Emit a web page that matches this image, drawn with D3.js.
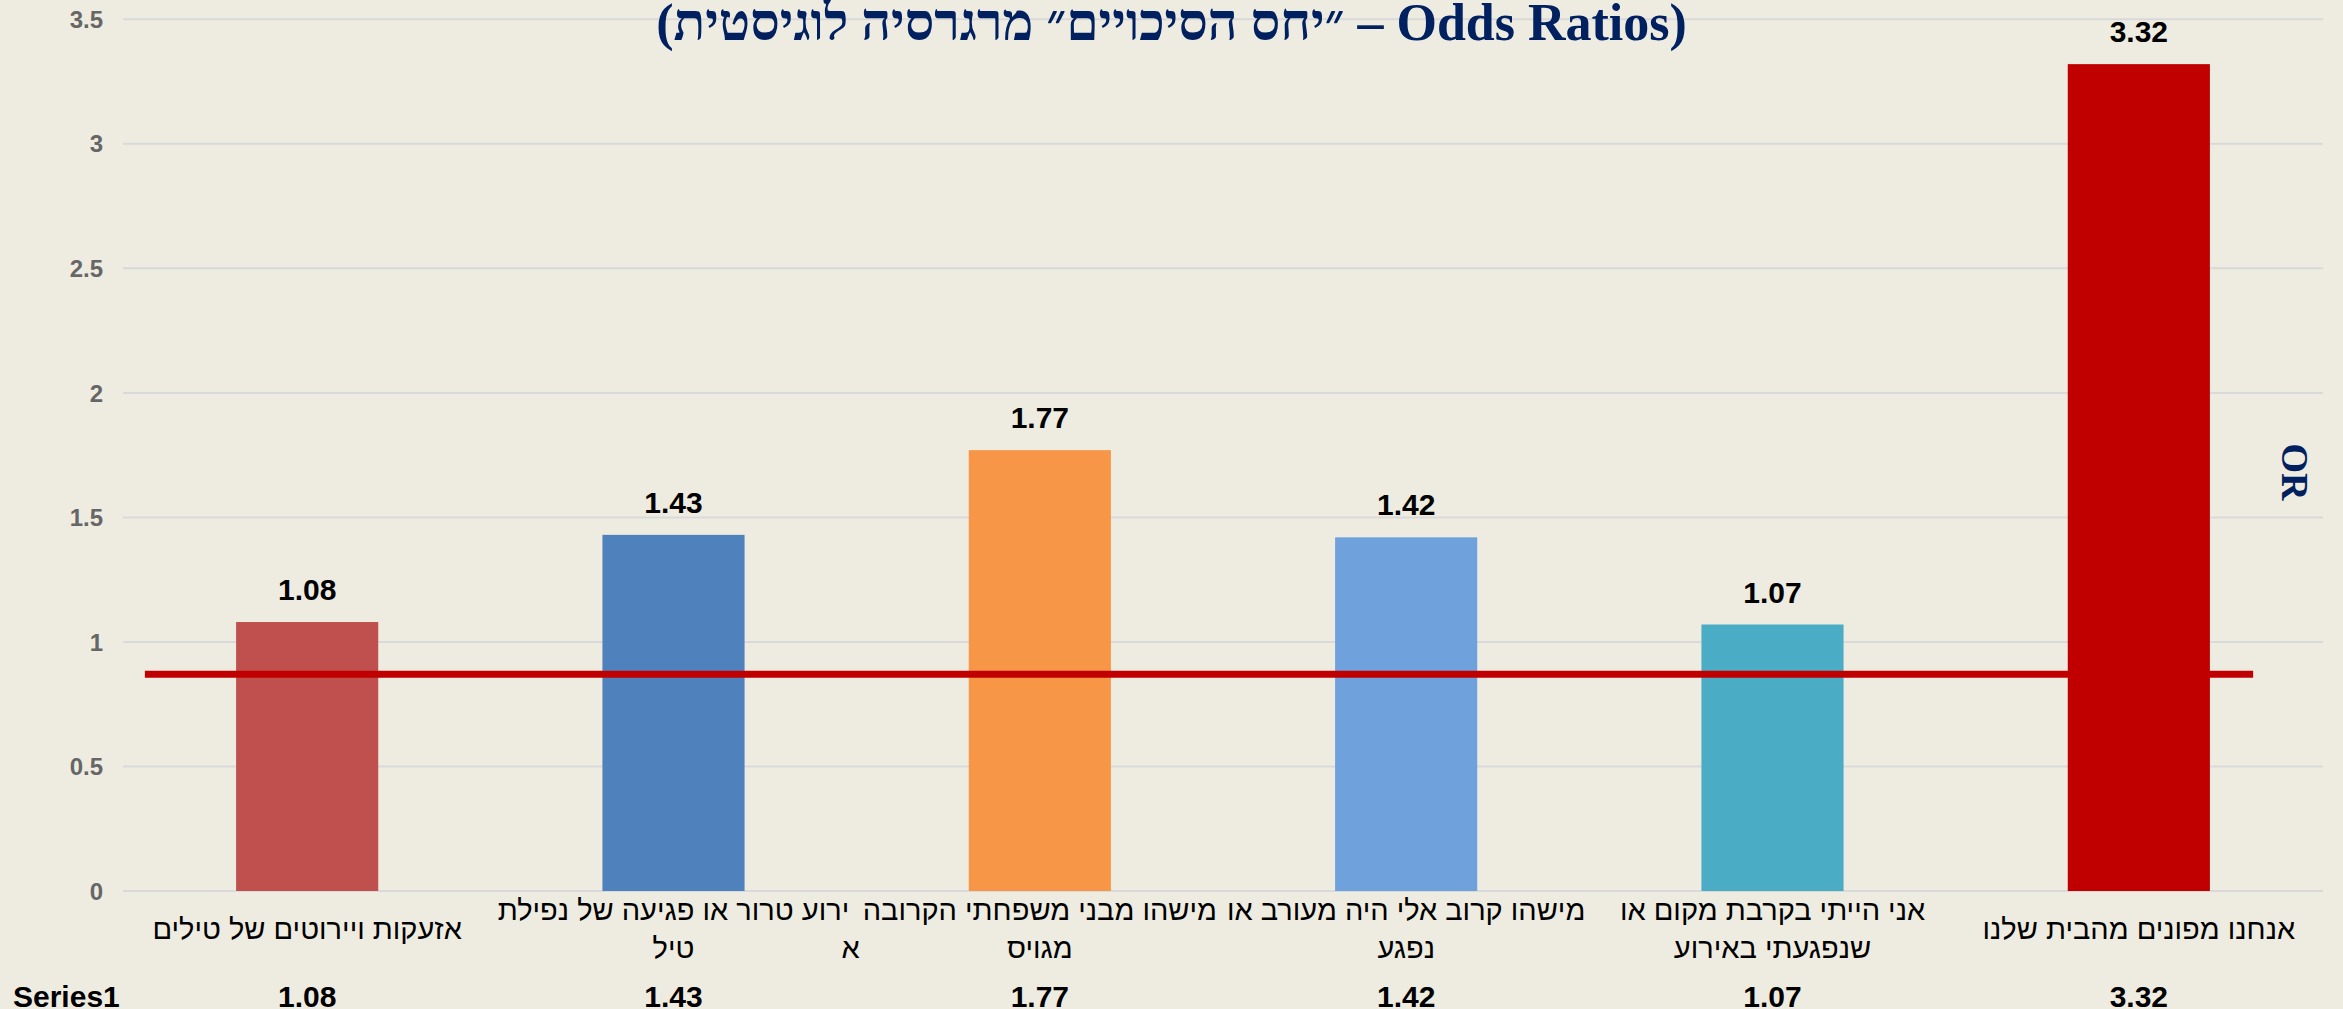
<!DOCTYPE html>
<html>
<head>
<meta charset="utf-8">
<title>Odds Ratios</title>
<style>
    body { margin: 0; background: #EEECE1; }
    svg { display: block; }
</style>
<script src="https://d3js.org/d3.v7.min.js"></script>
</head>
<body>
<svg width="2343" height="1009"></svg>
<script>
    // data
    var categories = [
        "אזעקות ויירוטים של טילים",
        "אירוע טרור או פגיעה של נפילת טיל",
        "מישהו מבני משפחתי הקרובה מגויס",
        "מישהו קרוב אלי היה מעורב או נפגע",
        "אני הייתי בקרבת מקום או שנפגעתי באירוע",
        "אנחנו מפונים מהבית שלנו"
    ];
    // how each label wraps in the picture
    var labelLines = [
        ["אזעקות ויירוטים של טילים"],
        ["ירוע טרור או פגיעה של נפילת", "טיל"],
        ["מישהו מבני משפחתי הקרובה", "מגויס"],
        ["מישהו קרוב אלי היה מעורב או", "נפגע"],
        ["אני הייתי בקרבת מקום או", "שנפגעתי באירוע"],
        ["אנחנו מפונים מהבית שלנו"]
    ];
    var oddsRatios = [1.08, 1.43, 1.77, 1.42, 1.07, 3.32];
    var barColors = ["#C0504D", "#4F81BD", "#F79646", "#6FA1DC", "#4BACC6", "#C00000"];
    var yTicks = [0, 0.5, 1, 1.5, 2, 2.5, 3, 3.5];
    var seriesName = "Series1";
    var refValue = 0.87;
    var titleText = "(Odds Ratios – ״יחס הסיכויים״ מרגרסיה לוגיסטית)";
    var axisTitle = "OR";

    var svg = d3.select("svg");
    var W = 2343, H = 1009;
    var plotLeft = 124, plotRight = 2322, plotTop = 19.3, plotBottom = 891;
    var hebFont = "Liberation Sans Narrow, Liberation Sans, Arial, sans-serif";
    var numFont = "Liberation Sans, Arial, sans-serif";

    svg.append("rect").attr("width", W).attr("height", H).attr("fill", "#EEECE1");

    var x = d3.scaleBand().domain(d3.range(categories.length))
        .range([plotLeft, plotRight]).paddingInner(0.612).paddingOuter(0.306);
    var pos = d3.scaleLinear().domain([0, categories.length]).range([plotLeft, plotRight]);
    var y = d3.scaleLinear().domain([0, 3.5]).range([plotBottom, plotTop]);

    // gridlines
    svg.append("g").selectAll("line").data(yTicks).enter().append("line")
        .attr("x1", plotLeft - 1).attr("x2", plotRight + 1)
        .attr("y1", function (d) { return y(d); })
        .attr("y2", function (d) { return y(d); })
        .attr("stroke", "#D9D9D9").attr("stroke-width", 2);

    // y labels
    svg.append("g").selectAll("text").data(yTicks).enter().append("text")
        .attr("x", 103).attr("y", function (d) { return y(d); })
        .attr("dy", "0.36em")
        .attr("text-anchor", "end")
        .attr("font-family", numFont)
        .attr("font-weight", "bold")
        .attr("font-size", 24)
        .attr("fill", "#666666")
        .text(function (d) { return d; });

    // bars
    svg.append("g").selectAll("rect").data(oddsRatios).enter().append("rect")
        .attr("x", function (d, i) { return x(i); })
        .attr("width", x.bandwidth())
        .attr("y", function (d) { return y(d); })
        .attr("height", function (d) { return y(0) - y(d); })
        .attr("fill", function (d, i) { return barColors[i]; });

    // value labels
    svg.append("g").selectAll("text").data(oddsRatios).enter().append("text")
        .attr("x", function (d, i) { return x(i) + x.bandwidth() / 2; })
        .attr("y", function (d) { return y(d) - 22; })
        .attr("text-anchor", "middle")
        .attr("font-family", numFont)
        .attr("font-weight", "bold")
        .attr("font-size", 30)
        .attr("fill", "#000")
        .text(function (d) { return d.toFixed(2); });

    // reference line
    svg.append("line")
        .attr("x1", pos(0.057)).attr("x2", pos(5.812))
        .attr("y1", y(refValue)).attr("y2", y(refValue))
        .attr("stroke", "#C00000").attr("stroke-width", 7);

    // category labels
    var lab = svg.append("g").selectAll("g").data(labelLines).enter().append("g")
        .attr("transform", function (d, i) { return "translate(" + (x(i) + x.bandwidth() / 2) + ",0)"; });
    lab.each(function (lines) {
        var g = d3.select(this);
        var base = lines.length == 1 ? 939 : 920;
        lines.forEach(function (t, k) {
            g.append("text")
                .attr("x", 0).attr("y", base + k * 38)
                .attr("text-anchor", "middle")
                .attr("direction", "rtl")
                .attr("font-family", hebFont)
                .attr("font-size", 29)
                .attr("fill", "#000")
                .text(t);
        });
    });
    // the first letter of label 2 that slipped to the second line
    svg.append("text")
        .attr("x", x(1) + x.bandwidth() / 2 + 177).attr("y", 958)
        .attr("text-anchor", "middle")
        .attr("font-family", hebFont)
        .attr("font-size", 29)
        .text(categories[1].charAt(0));

    // data table row
    svg.append("text").attr("x", 13).attr("y", 1007)
        .attr("font-family", numFont)
        .attr("font-weight", "bold").attr("font-size", 30)
        .text(seriesName);
    svg.append("g").selectAll("text").data(oddsRatios).enter().append("text")
        .attr("x", function (d, i) { return x(i) + x.bandwidth() / 2; })
        .attr("y", 1007)
        .attr("text-anchor", "middle")
        .attr("font-family", numFont)
        .attr("font-weight", "bold").attr("font-size", 30)
        .text(function (d) { return d.toFixed(2); });

    // title
    svg.append("text")
        .attr("x", W / 2).attr("y", 40)
        .attr("text-anchor", "middle")
        .attr("direction", "rtl")
        .attr("font-family", "Liberation Serif, Times New Roman, serif")
        .attr("font-weight", "bold").attr("font-size", 52)
        .attr("fill", "#002060")
        .text(titleText);

    // secondary axis title
    svg.append("text")
        .attr("transform", "translate(2282,472) rotate(90)")
        .attr("text-anchor", "middle")
        .attr("font-family", "Liberation Serif, Times New Roman, serif")
        .attr("font-weight", "bold").attr("font-size", 38)
        .attr("fill", "#002060")
        .text(axisTitle);
</script>
</body>
</html>
